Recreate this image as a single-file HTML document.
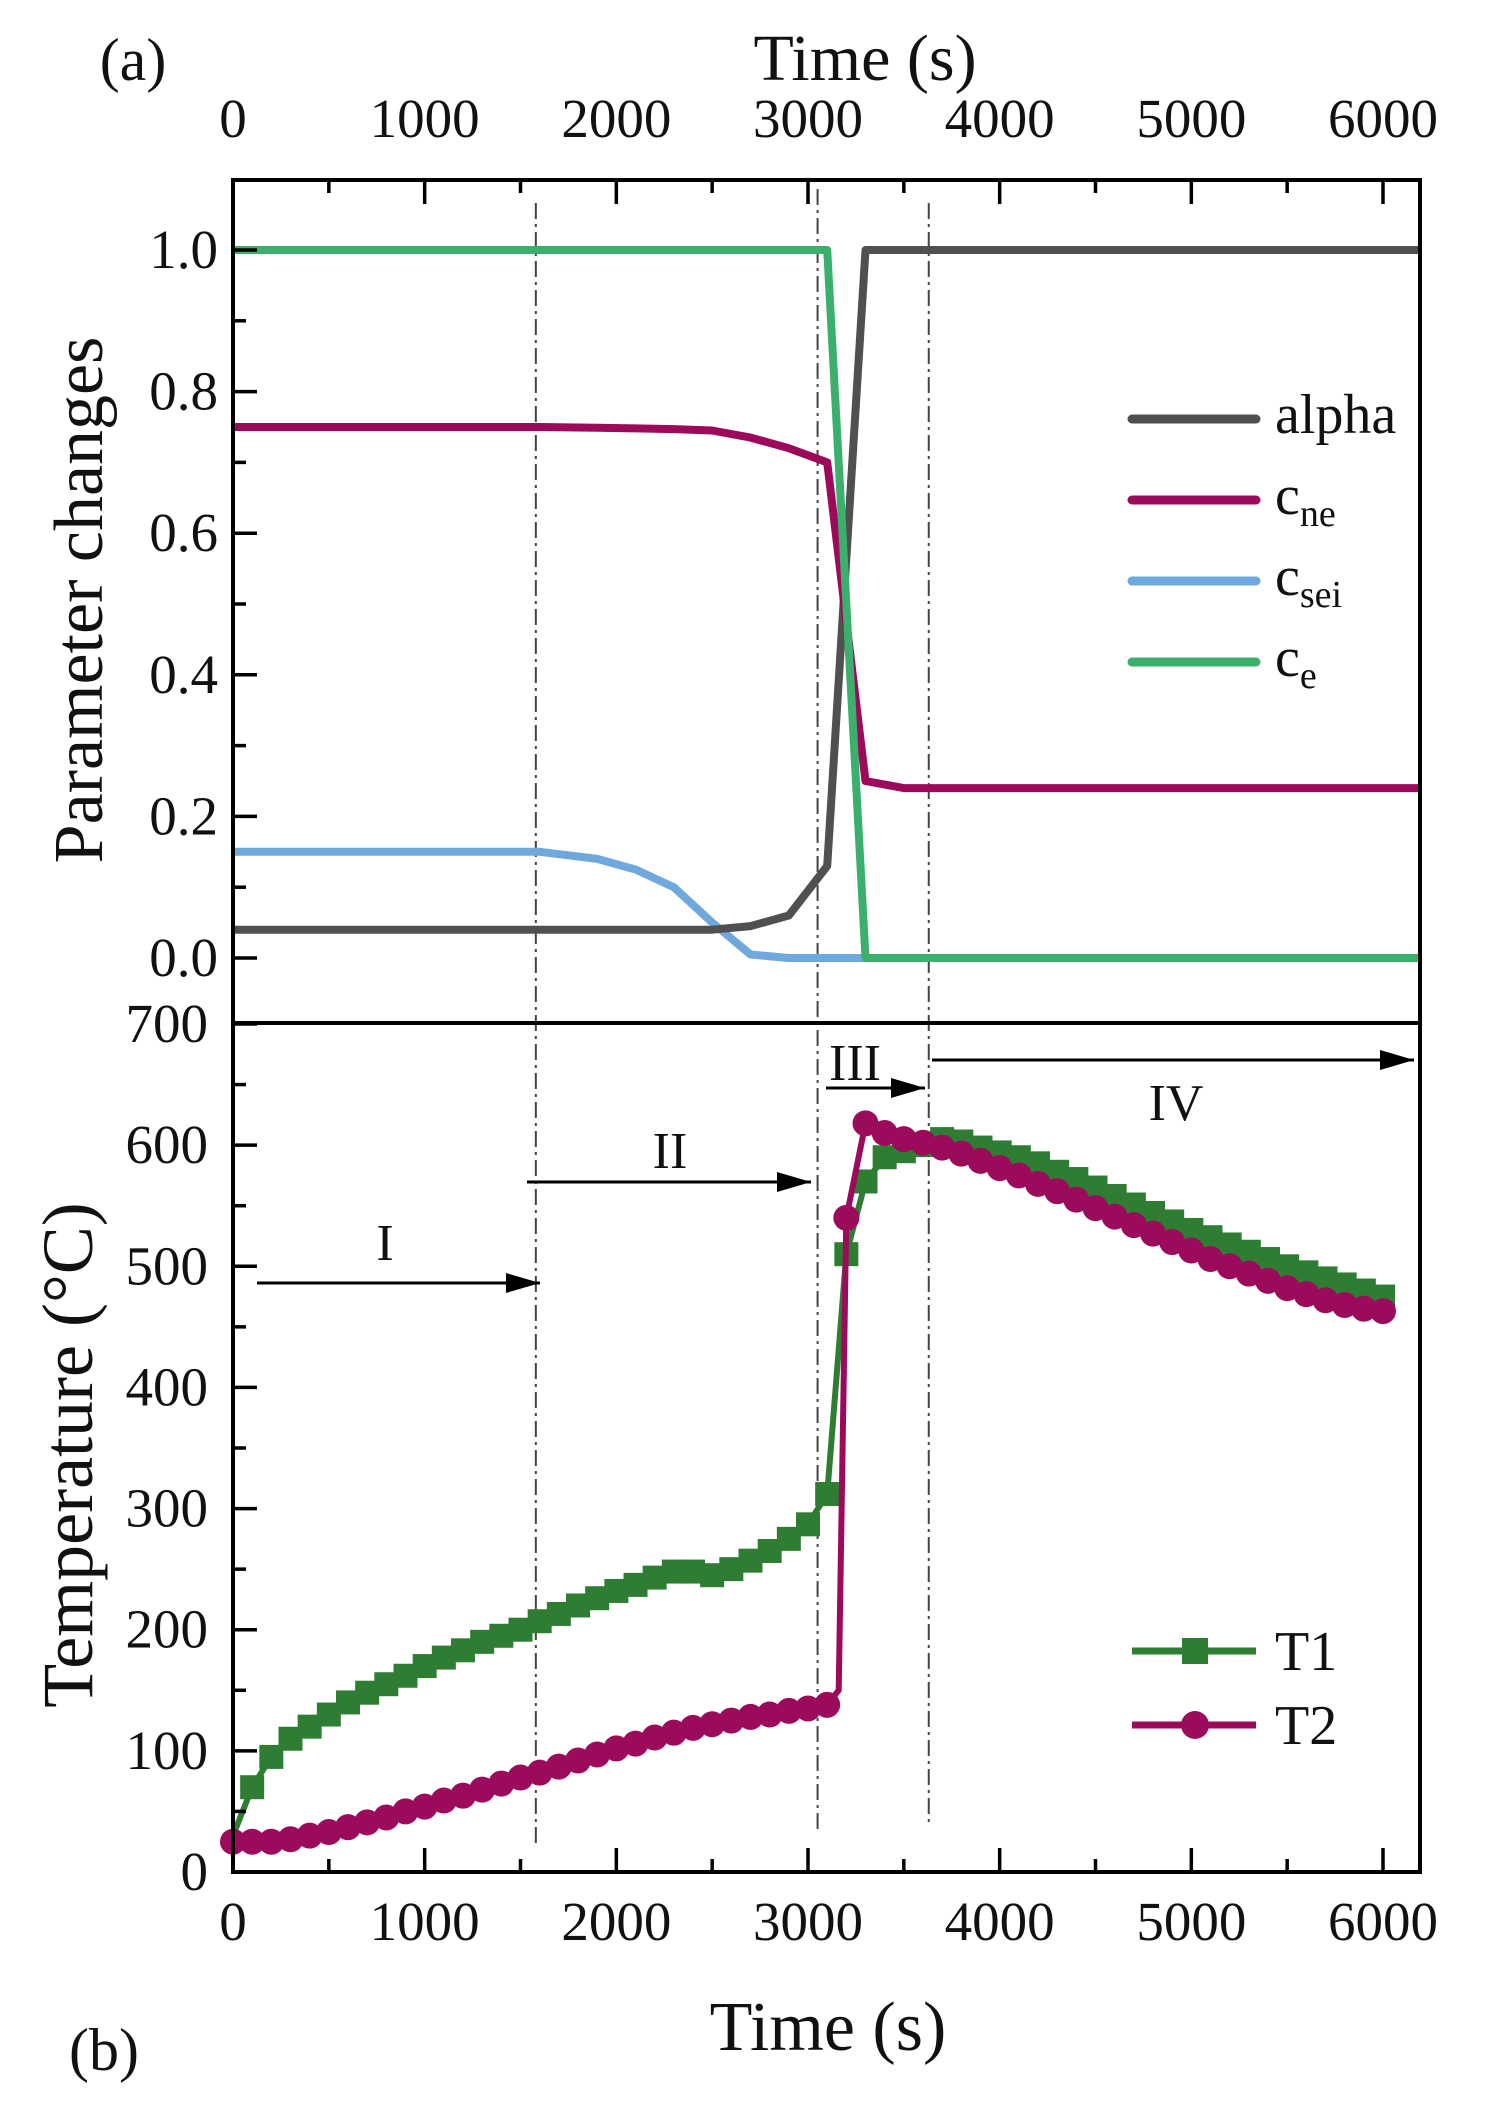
<!DOCTYPE html>
<html><head><meta charset="utf-8"><style>
html,body{margin:0;padding:0;background:#fff}
svg{display:block}
text{font-family:"Liberation Serif",serif;fill:#111}
</style></head><body>
<svg id="chart" width="1490" height="2122" viewBox="0 0 1490 2122" xmlns="http://www.w3.org/2000/svg"></svg>
<script>
// ---- data ----
const topTimes = [0,500,1000,1600,1900,2100,2300,2500,2700,2900,3100,3300,3500,4000,5000,6200];
const alphaVals = [0.04,0.04,0.04,0.04,0.04,0.04,0.04,0.04,0.045,0.06,0.13,1.0,1.0,1.0,1.0,1.0];
const cneVals = [0.75,0.75,0.75,0.75,0.749,0.748,0.747,0.745,0.735,0.72,0.70,0.25,0.24,0.24,0.24,0.24];
const cseiVals = [0.15,0.15,0.15,0.15,0.14,0.125,0.10,0.05,0.005,0.0,0.0,0.0,0.0,0.0,0.0,0.0];
const ceVals = [1,1,1,1,1,1,1,1,1,1,1,0,0,0,0,0];
const t1Times = [0,100,200,300,400,500,600,700,800,900,1000,1100,1200,1300,1400,1500,1600,1700,1800,1900,2000,2100,2200,2300,2400,2500,2600,2700,2800,2900,3000,3100,3200,3300,3400,3500,3600,3700,3800,3900,4000,4100,4200,4300,4400,4500,4600,4700,4800,4900,5000,5100,5200,5300,5400,5500,5600,5700,5800,5900,6000];
const t1Vals = [30,70,95,110,120,130,140,148,155,162,170,177,183,190,195,200,207,213,220,226,232,237,243,248,248,245,250,257,265,275,287,312,510,570,590,595,600,605,603,598,594,590,585,578,572,565,558,551,544,537,530,524,518,512,506,500,495,490,485,480,475];
const t2Times = [0,100,200,300,400,500,600,700,800,900,1000,1100,1200,1300,1400,1500,1600,1700,1800,1900,2000,2100,2200,2300,2400,2500,2600,2700,2800,2900,3000,3100,3200,3300,3400,3500,3600,3700,3800,3900,4000,4100,4200,4300,4400,4500,4600,4700,4800,4900,5000,5100,5200,5300,5400,5500,5600,5700,5800,5900,6000];
const t2Vals = [25,25,25,27,30,33,37,41,45,50,54,59,63,68,73,78,82,87,92,97,102,106,111,115,119,122,125,128,130,133,135,138,540,618,610,605,602,598,593,587,581,575,568,562,555,548,541,534,527,520,513,506,500,494,488,482,477,472,468,465,463];
const xTicks = [0,1000,2000,3000,4000,5000,6000];
const yTopTicks = [0.0,0.2,0.4,0.6,0.8,1.0];
const yBotTicks = [0,100,200,300,400,500,600,700];
const phaseBounds = [1580,3050,3630];

// ---- layout ----
const L=233,R=1420,T=180,MID=1023,B=1872;
const X=t=>L+(t/6000)*(1383-L);
const YT=v=>958-v*708;
const YB=v=>1872-v*(1872-1024)/700;
const NS="http://www.w3.org/2000/svg";
const svg=document.getElementById('chart');
function el(tag,attrs,parent){const e=document.createElementNS(NS,tag);for(const k in attrs)e.setAttribute(k,attrs[k]);(parent||svg).appendChild(e);return e;}
function txt(s,x,y,size,anchor,parent){const e=el('text',{x:x,y:y,'font-size':size,'text-anchor':anchor||'middle'},parent);e.textContent=s;return e;}

const defs=el('defs',{});
const mk=el('marker',{id:'arr',markerWidth:34,markerHeight:20,refX:34,refY:10,orient:'auto',markerUnits:'userSpaceOnUse'},defs);
el('path',{d:'M0,0 L34,10 L0,20 Z',fill:'#000'},mk);

// phase lines
const phases=el('g',{});


const pStart=[203,189,203],pEnd=[1844,1830,1827];
phaseBounds.forEach((t,i)=>{
  const ln=el('line',{x1:X(t),x2:X(t),y1:pStart[i],y2:pEnd[i],stroke:'#444','stroke-width':2,'stroke-dasharray':'16,5,3,5'},phases);
  
  
});

function line(times,vals,Y,color,w,name){
  const d=times.map((t,i)=>(i?'L':'M')+X(t).toFixed(1)+','+Y(vals[i]).toFixed(1)).join(' ');
  const p=el('path',{d:d,fill:'none',stroke:color,'stroke-width':w,'stroke-linejoin':'round'});
  
  
  return p;
}
line(topTimes,cseiVals,YT,'#6fa8dc',8,'series-c-sei');
line(topTimes,alphaVals,YT,'#505050',8,'series-alpha');
line(topTimes,cneVals,YT,'#9c0a5c',8,'series-c-ne');
line(topTimes,ceVals,YT,'#3bb06c',8,'series-c-e');

line(t1Times,t1Vals,YB,'#2f7d32',6,'series-t1-line');
const g1=el('g',{fill:'#2f7d32'});


t1Times.forEach((t,i)=>{if(i===0)return;const r=el('rect',{x:X(t)-12,y:YB(t1Vals[i])-12,width:24,height:24},g1);
  
  });
line(t2Times.slice(0,32).concat([3160]).concat(t2Times.slice(32)),t2Vals.slice(0,32).concat([150]).concat(t2Vals.slice(32)),YB,'#9c0a5c',6,'series-t2-line');
const g2=el('g',{fill:'#9c0a5c'});


t2Times.forEach((t,i)=>{const c=el('circle',{cx:X(t),cy:YB(t2Vals[i]),r:13},g2);
  
  });

// frame
const fr=el('g',{stroke:'#000','stroke-width':4,fill:'none'});


el('rect',{x:L,y:T,width:R-L,height:B-T},fr);
el('line',{x1:L,x2:R,y1:MID,y2:MID},fr);

const tk=el('g',{stroke:'#000','stroke-width':3.5});


for(let t=0;t<=6000;t+=500){const maj=t%1000===0,len=maj?24:13;
  el('line',{x1:X(t),x2:X(t),y1:T,y2:T+len},tk);
  el('line',{x1:X(t),x2:X(t),y1:B,y2:B-len},tk);}
for(let v=0;v<=10;v++){const maj=v%2===0,len=maj?24:13;el('line',{x1:L,x2:L+len,y1:YT(v/10),y2:YT(v/10)},tk);}
for(let v=0;v<=700;v+=50){const maj=v%100===0,len=maj?24:13;el('line',{x1:L,x2:L+len,y1:YB(v),y2:YB(v)},tk);}

const tl=el('g',{});


xTicks.forEach(t=>{txt(String(t),X(t),137,55,'middle',tl);txt(String(t),X(t),1940,55,'middle',tl);});
yTopTicks.forEach(v=>txt(v.toFixed(1),218,YT(v)+18,55,'end',tl));
yBotTicks.forEach(v=>txt(String(v),208,YB(v)+18,55,'end',tl));

let e;
e=txt('Time (s)',865,80,66);
e=txt('Time (s)',828,2050,70);
e=txt('(a)',133,80,60);
e=txt('(b)',104,2070,60);
e=txt('Parameter changes',0,0,70);e.setAttribute('transform','translate(102,600) rotate(-90)');
e=txt('Temperature (°C)',0,0,72);e.setAttribute('transform','translate(92,1455) rotate(-90)');

const arrows=[[257,540,1283,'I',385,1260],[527,811,1182,'II',670,1168],[826,925,1088,'III',855,1080],[932,1414,1060,'IV',1176,1120]];
arrows.forEach(a=>{
  const g=el('g',{});
  
  
  el('line',{x1:a[0],x2:a[1],y1:a[2],y2:a[2],stroke:'#000','stroke-width':3,'marker-end':'url(#arr)'},g);
  txt(a[3],a[4],a[5],52,'middle',g);
});

const leg=el('g',{});


const legItems=[['alpha','','#505050',419],['c','ne','#9c0a5c',500],['c','sei','#6fa8dc',581],['c','e','#3bb06c',662]];
legItems.forEach(it=>{
  const g=el('g',{},leg);
  
  
  el('line',{x1:1132,x2:1256,y1:it[3],y2:it[3],stroke:it[2],'stroke-width':9,'stroke-linecap':'round'},g);
  const t=el('text',{x:1275,y:it[3]+14,'font-size':56},g);
  t.textContent=it[0];
  if(it[1]){const s=el('tspan',{'font-size':38,dy:12},t);s.textContent=it[1];}
});
const leg2=el('g',{});


[['T1','#2f7d32',1651,'rect'],['T2','#9c0a5c',1725,'circle']].forEach(it=>{
  const g=el('g',{},leg2);
  
  
  el('line',{x1:1132,x2:1256,y1:it[2],y2:it[2],stroke:it[1],'stroke-width':7},g);
  if(it[3]==='rect')el('rect',{x:1182,y:it[2]-13,width:26,height:26,fill:it[1]},g);
  else el('circle',{cx:1195,cy:it[2],r:14,fill:it[1]},g);
  txt(it[0],1275,it[2]+19,56,'start',g);
});
</script>
</body></html>
